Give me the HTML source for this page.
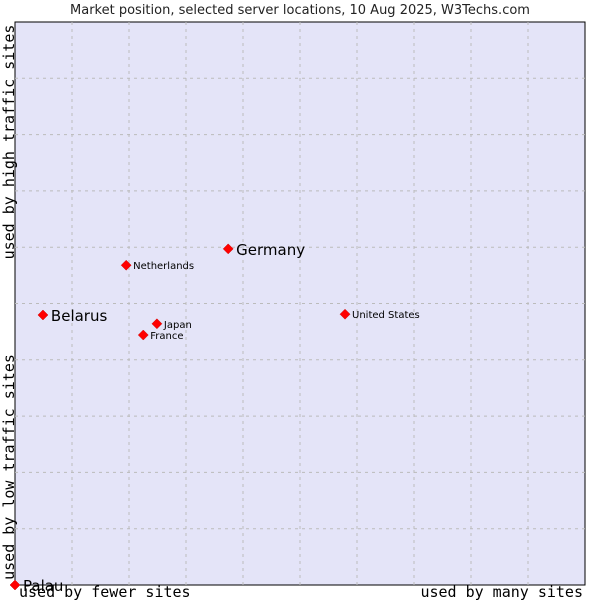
<!DOCTYPE html>
<html><head><meta charset="utf-8"><style>
body{margin:0;background:#fff;width:600px;height:600px;overflow:hidden}
svg{display:block}
</style></head><body>
<svg width="600" height="600" xmlns="http://www.w3.org/2000/svg">
<text x="300" y="14" text-anchor="middle" font-family="DejaVu Sans, sans-serif" font-size="13" fill="#222">Market position, selected server locations, 10 Aug 2025, W3Techs.com</text>
<rect x="15" y="22" width="570" height="563" fill="#e4e4f8" stroke="#000" stroke-width="1"/>
<g id="grid"></g>
<text transform="translate(14,142) rotate(-90)" text-anchor="middle" font-family="DejaVu Sans Mono, monospace" font-size="15">used by high traffic sites</text>
<text transform="translate(14,467) rotate(-90)" text-anchor="middle" font-family="DejaVu Sans Mono, monospace" font-size="15">used by low traffic sites</text>
<text x="19" y="597" font-family="DejaVu Sans Mono, monospace" font-size="15">used by fewer sites</text>
<text x="583" y="597" text-anchor="end" font-family="DejaVu Sans Mono, monospace" font-size="15">used by many sites</text>
<g id="points"></g>
</svg>
<script>
const countries=["Palau","Belarus","Germany","Netherlands","Japan","France","United States"];
const xVals=[0,4.9,37.4,19.5,24.9,22.5,57.9];
const yVals=[0,47.96,59.7,56.8,46.4,44.4,48.1];
const bigLabel=[true,true,true,false,false,false,false];
const NS="http://www.w3.org/2000/svg";
const L=15,T=22,W=570,H=563;
function sx(v){return L+v/100*W;}
function sy(v){return T+H-v/100*H;}
const grid=document.getElementById('grid');
for(let i=1;i<10;i++){
 const x=L+i*W/10,y=T+i*H/10;
 const a=document.createElementNS(NS,'line');
 a.setAttribute('x1',x);a.setAttribute('x2',x);a.setAttribute('y1',T);a.setAttribute('y2',T+H);
 a.setAttribute('stroke','#bbb');a.setAttribute('stroke-dasharray','3,4');
 
 
 grid.appendChild(a);
 const b=document.createElementNS(NS,'line');
 b.setAttribute('y1',y);b.setAttribute('y2',y);b.setAttribute('x1',L);b.setAttribute('x2',L+W);
 b.setAttribute('stroke','#bbb');b.setAttribute('stroke-dasharray','3,4');
 
 
 grid.appendChild(b);
}
const pts=document.getElementById('points');
countries.forEach((c,i)=>{
 const x=sx(xVals[i]),y=sy(yVals[i]);
 const d=document.createElementNS(NS,'path');
 d.setAttribute('d',`M${x},${y-5}L${x+5},${y}L${x},${y+5}L${x-5},${y}Z`);
 d.setAttribute('fill','#f00');d.setAttribute('stroke','#c00');d.setAttribute('stroke-width','0.5');
 
 
 pts.appendChild(d);
 const t=document.createElementNS(NS,'text');
 const big=bigLabel[i];
 t.setAttribute('x',x+(big?8:7));t.setAttribute('y',y+(big?6:4));
 t.setAttribute('font-family','DejaVu Sans, sans-serif');
 t.setAttribute('font-size',big?'15':'10');
 t.setAttribute('fill','#000');
 t.textContent=c;
 
 
 pts.appendChild(t);
});
</script>
</body></html>
